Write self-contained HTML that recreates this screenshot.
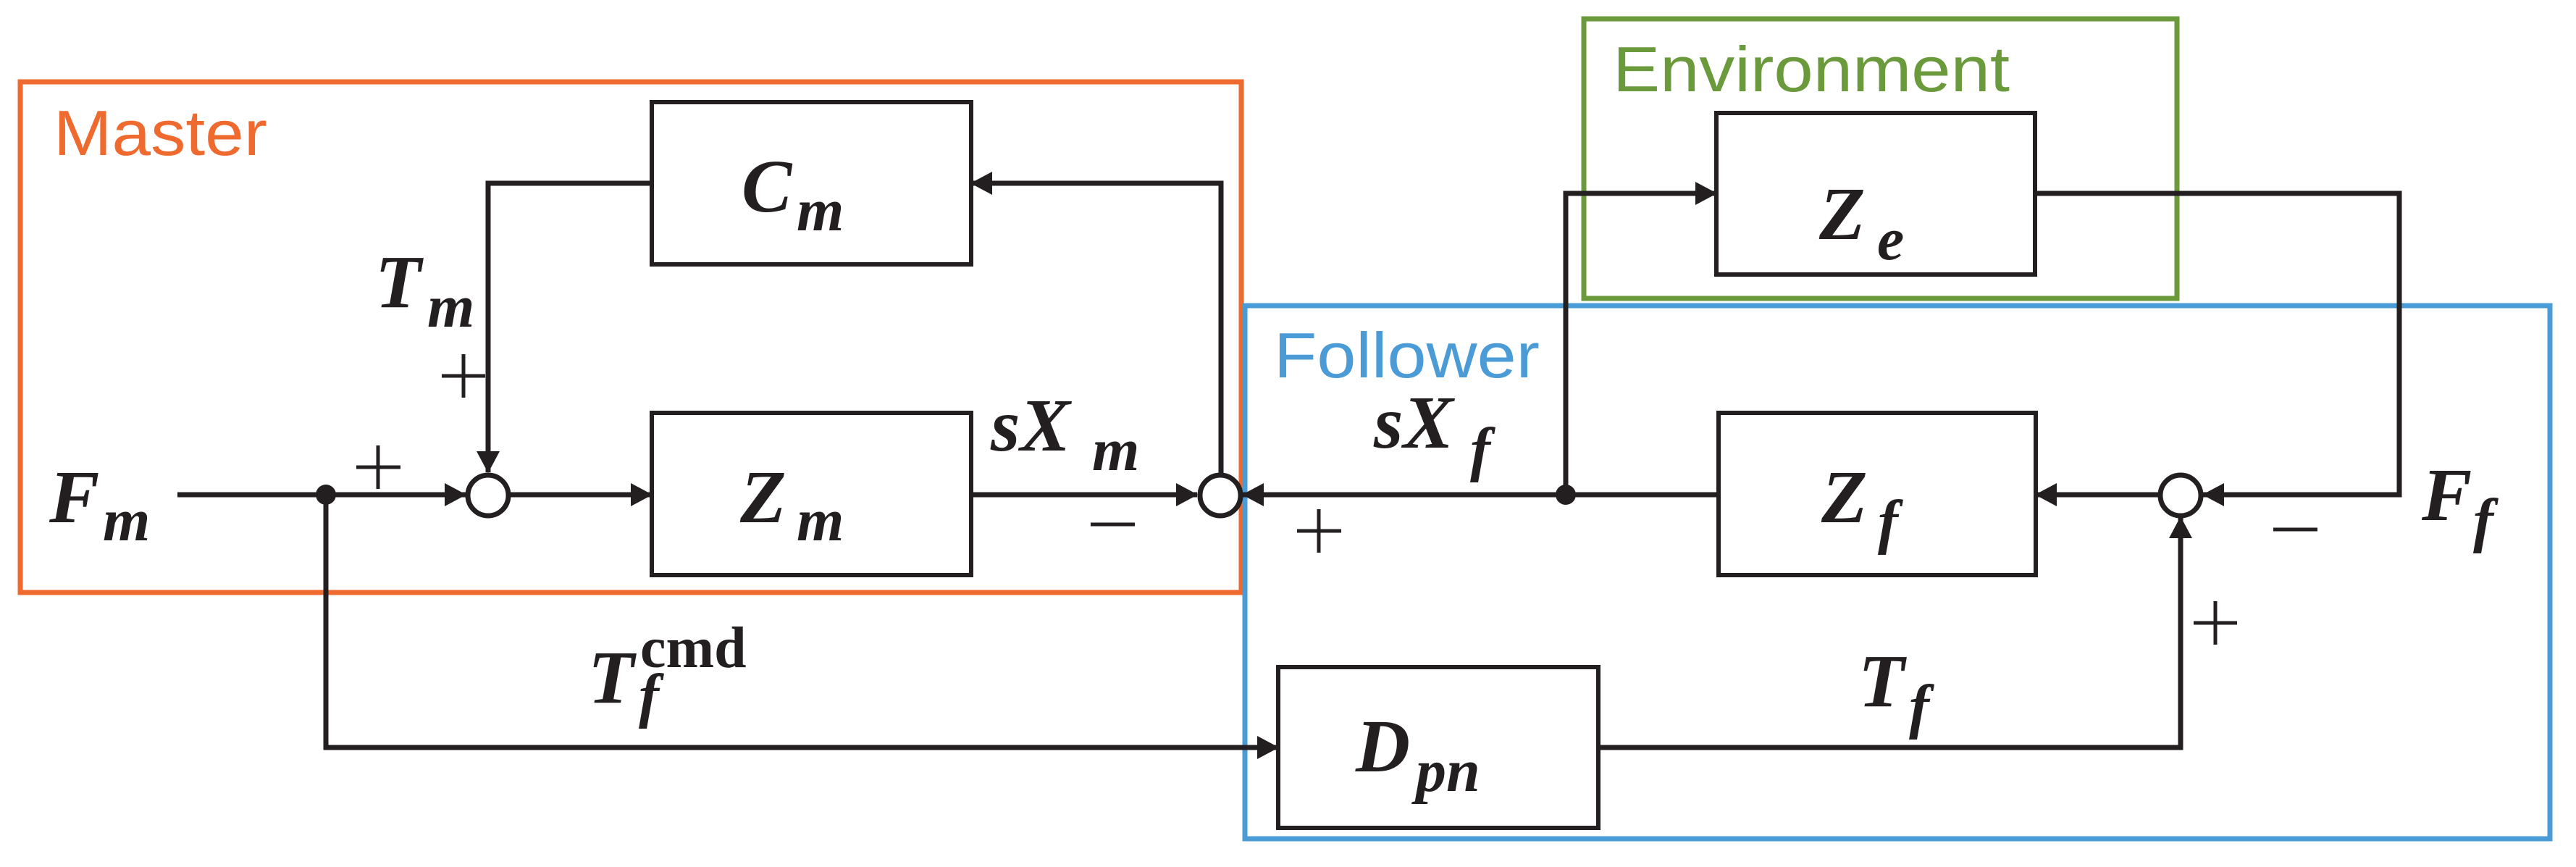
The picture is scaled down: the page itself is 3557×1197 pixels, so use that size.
<!DOCTYPE html>
<html><head><meta charset="utf-8"><style>
html,body{margin:0;padding:0;background:#fff}
svg{display:block}
.m{font-family:"Liberation Serif",serif;font-weight:bold;font-style:italic;fill:#231f20}
.l{font-family:"Liberation Sans",sans-serif;}
</style></head><body>
<svg width="3557" height="1197" viewBox="0 0 3557 1197" xmlns="http://www.w3.org/2000/svg">
<defs>
<marker id="a" markerWidth="30" markerHeight="32" refX="29" refY="16" orient="auto" markerUnits="userSpaceOnUse">
<path d="M0,0 L30,16 L0,32 Z" fill="#231f20"/></marker>
</defs>
<!-- group boxes -->
<rect x="28" y="113" width="1686" height="705" fill="none" stroke="#ee6a2f" stroke-width="7"/>
<rect x="2187" y="26" width="819" height="386" fill="none" stroke="#6a9a3c" stroke-width="7"/>
<rect x="1719" y="422" width="1802" height="736" fill="none" stroke="#4a9bd6" stroke-width="7"/>
<text class="l" x="74" y="214" font-size="88" fill="#ee6a2f" textLength="295" lengthAdjust="spacingAndGlyphs">Master</text>
<text class="l" x="2227" y="126" font-size="88" fill="#6a9a3c" textLength="548" lengthAdjust="spacingAndGlyphs">Environment</text>
<text class="l" x="1759" y="521" font-size="88" fill="#4a9bd6" textLength="367" lengthAdjust="spacingAndGlyphs">Follower</text>
<!-- blocks -->
<g fill="#fff" stroke="#231f20" stroke-width="6">
<rect x="900" y="141" width="441" height="224"/>
<rect x="900" y="570" width="441" height="224"/>
<rect x="2370" y="156" width="440" height="223"/>
<rect x="2373" y="570" width="438" height="224"/>
<rect x="1765" y="921" width="442" height="222"/>
</g>
<!-- connectors -->
<g fill="none" stroke="#231f20" stroke-width="7">
<line x1="245" y1="683" x2="643" y2="683" marker-end="url(#a)"/>
<line x1="704" y1="683" x2="900" y2="683" marker-end="url(#a)"/>
<line x1="1341" y1="683" x2="1653" y2="683" marker-end="url(#a)"/>
<polyline points="900,253 674,253 674,652" marker-end="url(#a)"/>
<polyline points="1686,655 1686,253 1341,253" marker-end="url(#a)"/>
<polyline points="450,683 450,1032 1765,1032" marker-end="url(#a)"/>
<line x1="2373" y1="683" x2="1716" y2="683" marker-end="url(#a)"/>
<polyline points="2162,683 2162,267 2370,267" marker-end="url(#a)"/>
<polyline points="2810,267 3313,267 3313,683 3042,683" marker-end="url(#a)"/>
<line x1="2980" y1="683" x2="2811" y2="683" marker-end="url(#a)"/>
<polyline points="2207,1032 3011,1032 3011,714" marker-end="url(#a)"/>
</g>
<g fill="#fff" stroke="#231f20" stroke-width="7">
<circle cx="674" cy="684" r="28"/>
<circle cx="1685" cy="684" r="28"/>
<circle cx="3011" cy="684" r="28"/>
</g>
<circle cx="450" cy="683" r="14" fill="#231f20"/>
<circle cx="2162" cy="683" r="14" fill="#231f20"/>
<!-- signs -->
<g stroke="#231f20" stroke-width="5">
<line x1="492" y1="645" x2="553" y2="645"/><line x1="522" y1="615" x2="522" y2="675"/>
<line x1="610" y1="519" x2="670" y2="519"/><line x1="640" y1="489" x2="640" y2="549"/>
<line x1="1791" y1="733" x2="1852" y2="733"/><line x1="1821" y1="703" x2="1821" y2="763"/>
<line x1="3029" y1="860" x2="3089" y2="860"/><line x1="3059" y1="830" x2="3059" y2="890"/>
<line x1="1506" y1="724" x2="1567" y2="724"/>
<line x1="3139" y1="731" x2="3200" y2="731"/>
</g>
<!-- math labels -->
<g class="m">
<text x="68" y="721" font-size="104">F</text><text x="142" y="746" font-size="84">m</text>
<text x="518" y="424" font-size="104">T</text><text x="590" y="451" font-size="84">m</text>
<text x="1024" y="292" font-size="104">C</text><text x="1100" y="318" font-size="84">m</text>
<text x="1022" y="721" font-size="104">Z</text><text x="1100" y="746" font-size="84">m</text>
<text x="1368" y="622" font-size="104">sX</text><text x="1508" y="649" font-size="84">m</text>
<text x="812" y="970" font-size="104">T</text><text x="882" y="988" font-size="84">f</text>
<text x="884" y="921" font-size="80" style="font-style:normal">cmd</text>
<text x="2512" y="330" font-size="104">Z</text><text x="2592" y="358" font-size="84">e</text>
<text x="1897" y="618" font-size="104">sX</text><text x="2030" y="648" font-size="84">f</text>
<text x="2515" y="721" font-size="104">Z</text><text x="2593" y="748" font-size="84">f</text>
<text x="3344" y="718" font-size="104">F</text><text x="3415" y="746" font-size="84">f</text>
<text x="2566" y="975" font-size="104">T</text><text x="2636" y="1003" font-size="84">f</text>
<text x="1872" y="1065" font-size="104">D</text><text x="1955" y="1092" font-size="84">pn</text>
</g>
</svg>
</body></html>
